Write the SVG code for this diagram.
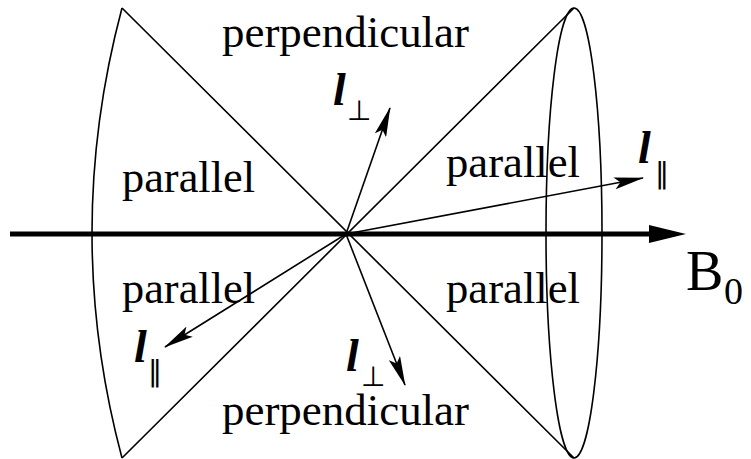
<svg xmlns="http://www.w3.org/2000/svg" width="751" height="459" viewBox="0 0 751 459">
<style>
.ln{fill:none;stroke:#000;stroke-width:1.6}
.t{font-family:'Liberation Serif','Times New Roman','DejaVu Serif',serif;font-size:44px;fill:#000}
.l{font-family:'Liberation Serif','Times New Roman','DejaVu Serif',serif;font-size:46px;font-weight:bold;font-style:italic;fill:#000}
.s{font-family:'DejaVu Sans','Liberation Serif',sans-serif;font-size:28px;fill:#000}
.ar{fill:none;stroke:#000;stroke-width:1.6;marker-end:url(#ah)}
</style>
<defs>
<marker id="ah" markerUnits="userSpaceOnUse" markerWidth="30" markerHeight="12" refX="29" refY="6" orient="auto" viewBox="0 0 30 12">
<path d="M30 6 L0 0 L6 6 L0 12 Z" fill="#000"/>
</marker>
</defs>
<g id="cones">
<path class="ln" d="M122 8 Q62 233 122 458"/>
<ellipse class="ln" cx="574" cy="233" rx="28" ry="225"/>
<path class="ln" d="M122 8 L574 458 M122 458 L574 8"/>
</g>
<g id="connectors">
<line x1="10" y1="234" x2="652" y2="234" stroke="#000" stroke-width="5"/>
<polygon points="686,234 649,225 649,243" fill="#000"/>
<line class="ar" x1="346" y1="234" x2="390" y2="108"/>
<line class="ar" x1="346" y1="234" x2="643" y2="178"/>
<line class="ar" x1="346" y1="234" x2="165" y2="347"/>
<line class="ar" x1="346" y1="234" x2="405" y2="385"/>
</g>
<g id="labels">
<text class="t" x="222" y="47" textLength="247" lengthAdjust="spacingAndGlyphs">perpendicular</text>
<text class="t" x="222" y="425" textLength="247" lengthAdjust="spacingAndGlyphs">perpendicular</text>
<text class="t" x="122" y="192" textLength="133" lengthAdjust="spacingAndGlyphs">parallel</text>
<text class="t" x="446" y="177" textLength="134" lengthAdjust="spacingAndGlyphs">parallel</text>
<text class="t" x="122" y="303" textLength="133" lengthAdjust="spacingAndGlyphs">parallel</text>
<text class="t" x="446" y="303" textLength="134" lengthAdjust="spacingAndGlyphs">parallel</text>
<text font-family="Liberation Serif, serif" font-size="56" x="686" y="290">B</text>
<text font-family="Liberation Serif, serif" font-size="38" x="724" y="304">0</text>
</g>
<g id="l-perp-top"><text class="l" x="333" y="105">l</text><text class="s" x="347" y="120">⊥</text></g>
<g id="l-par-right"><text class="l" x="638" y="163">l</text><text class="s" x="655" y="183">‖</text></g>
<g id="l-par-left"><text class="l" x="134" y="362">l</text><text class="s" x="148" y="381">‖</text></g>
<g id="l-perp-bottom"><text class="l" x="346" y="371">l</text><text class="s" x="361" y="386">⊥</text></g>
</svg>
